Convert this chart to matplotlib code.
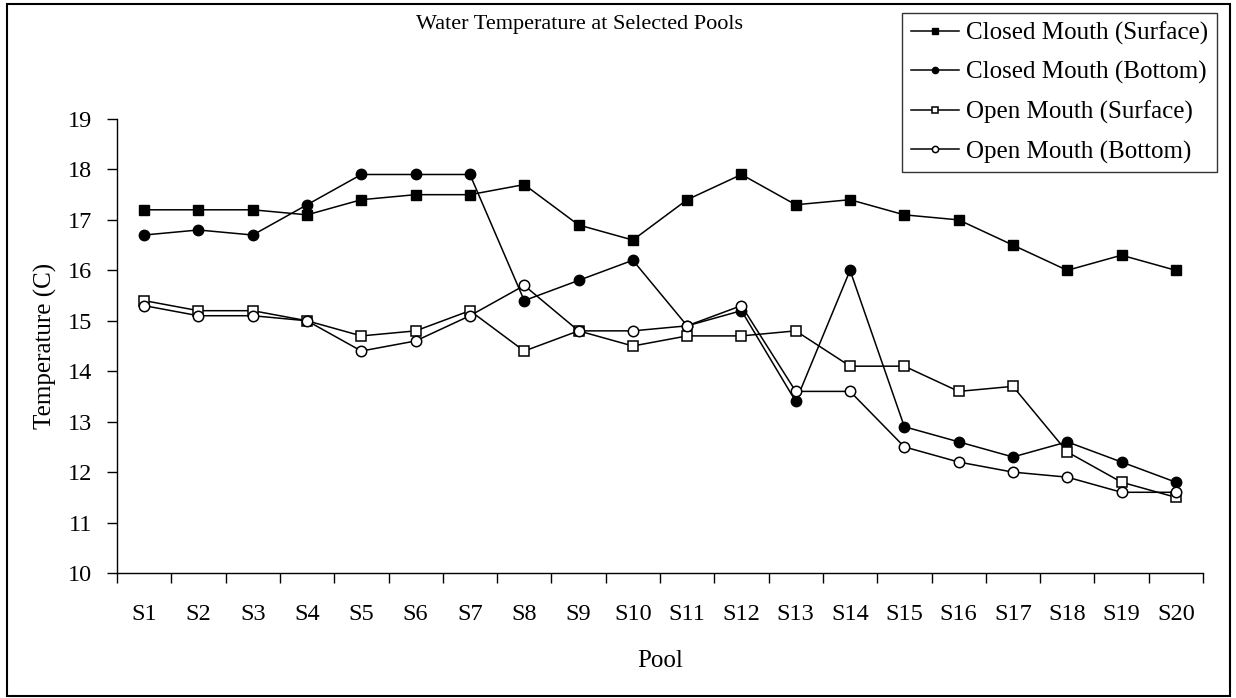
import numpy as np
import matplotlib
matplotlib.use('Agg')
import matplotlib.pyplot as plt
from matplotlib.patches import Rectangle

pools = ['S' + str(i) for i in range(1, 21)]

closed_surface = [17.2, 17.2, 17.2, 17.1, 17.4, 17.5, 17.5, 17.7, 16.9, 16.6,
                  17.4, 17.9, 17.3, 17.4, 17.1, 17.0, 16.5, 16.0, 16.3, 16.0]
closed_bottom = [16.7, 16.8, 16.7, 17.3, 17.9, 17.9, 17.9, 15.4, 15.8, 16.2,
                 14.9, 15.2, 13.4, 16.0, 12.9, 12.6, 12.3, 12.6, 12.2, 11.8]
open_surface = [15.4, 15.2, 15.2, 15.0, 14.7, 14.8, 15.2, 14.4, 14.8, 14.5,
                14.7, 14.7, 14.8, 14.1, 14.1, 13.6, 13.7, 12.4, 11.8, 11.5]
open_bottom = [15.3, 15.1, 15.1, 15.0, 14.4, 14.6, 15.1, 15.7, 14.8, 14.8,
               14.9, 15.3, 13.6, 13.6, 12.5, 12.2, 12.0, 11.9, 11.6, 11.6]

plt.rcParams['font.family'] = ['Liberation Serif', 'DejaVu Serif']

W, H = 1236, 698
fig = plt.figure(figsize=(W / 100, H / 100), dpi=100)
ax = fig.add_axes([117 / W, 1 - 573 / H, (1203 - 117) / W, (573 - 119) / H])

x = np.arange(len(pools))
ax.plot(x, closed_surface, color='black', lw=1.1, marker='s', ms=7,
        mfc='black', mec='black', label='Closed Mouth (Surface)')
ax.plot(x, closed_bottom, color='black', lw=1.1, marker='o', ms=7.5,
        mfc='black', mec='black', label='Closed Mouth (Bottom)')
ax.plot(x, open_surface, color='black', lw=1.1, marker='s', ms=7,
        mfc='white', mec='black', mew=1.1, label='Open Mouth (Surface)')
ax.plot(x, open_bottom, color='black', lw=1.1, marker='o', ms=7.5,
        mfc='white', mec='black', mew=1.1, label='Open Mouth (Bottom)')

ax.set_xlim(-0.5, len(pools) - 0.5)
ax.set_ylim(10, 19)
ax.set_yticks(range(10, 20))
ax.set_xticks(x)
ax.set_xticklabels(pools)
ax.set_xticks(np.arange(-0.5, len(pools), 1), minor=True)
ax.tick_params(axis='x', which='major', length=0, pad=22, labelsize=17.5)
ax.tick_params(axis='x', which='minor', length=7, direction='out', width=1)
ax.tick_params(axis='y', length=7, direction='out', width=1, pad=11, labelsize=17.5)

for s in ['top', 'right']:
    ax.spines[s].set_visible(False)
ax.spines['left'].set_linewidth(1)
ax.spines['bottom'].set_linewidth(1)

ax.set_ylabel('Temperature (C)', fontsize=18, labelpad=8)
ax.set_xlabel('Pool', fontsize=18, labelpad=18)

fig.text(580 / W, 1 - 24 / H, 'Water Temperature at Selected Pools',
         ha='center', va='center', fontsize=16)

leg = fig.legend(loc='upper right', bbox_to_anchor=(1217 / W, 1 - 13 / H),
                 fontsize=18, frameon=True, fancybox=False, markerscale=0.6,
                 handlelength=1.9, handletextpad=0.3, labelspacing=0.65,
                 borderpad=0.35, borderaxespad=0)
leg.get_frame().set_edgecolor('black')
leg.get_frame().set_linewidth(1)

fig.patches.append(Rectangle((7 / W, 2 / H), (1230 - 7) / W, (694 - 2) / H,
                             transform=fig.transFigure, fill=False,
                             edgecolor='black', linewidth=1.5))

fig.savefig('out.png', dpi=100)
